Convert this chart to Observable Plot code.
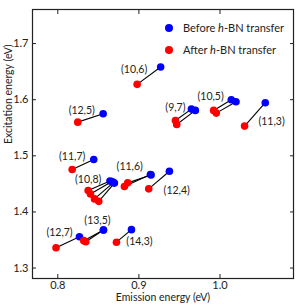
<!DOCTYPE html>
<html>
<head>
<meta charset="utf-8">
<script src="https://cdn.jsdelivr.net/npm/d3@7"></script>
<script src="https://cdn.jsdelivr.net/npm/@observablehq/plot@0.6"></script>
<style>
  html, body { margin: 0; padding: 0; background: #fff; }
  #wrap { position: relative; width: 299px; height: 307px; font-family: Lato, "Open Sans", sans-serif; }
  .leg { position: absolute; left: 165px; font-size: 11px; line-height: 13px; color: #222; display: flex; align-items: center; white-space: nowrap; }
  .leg span.d { width: 8px; height: 8px; border-radius: 50%; display: inline-block; margin-right: 10px; }
</style>
</head>
<body>
<div id="wrap"></div>
<script>
// chirality of each before/after pair
const pairNames = ["(12,5)","(10,6)","(9,7)","(9,7)","(10,5)","(10,5)","(11,3)","(11,7)",
  "(10,8)","(10,8)","(10,8)","(10,8)","(11,6)","(11,6)","(12,4)","(12,7)","(13,5)","(13,5)","(14,3)"];
// Before h-BN transfer (blue)
const beforeEm = [0.8559,0.9268,0.9647,0.9696,1.0139,1.0197,1.0558,0.8443,
  0.8643,0.8667,0.8686,0.8698,0.9142,0.9150,0.9376,0.8267,0.8563,0.8563,0.8908];
const beforeEx = [1.5750,1.6582,1.5832,1.5809,1.6000,1.5964,1.5946,1.4934,
  1.4550,1.4541,1.4523,1.4514,1.4666,1.4660,1.4725,1.3559,1.3679,1.3679,1.3684];
// After h-BN transfer (red)
const afterEm = [0.8246,0.8978,0.9450,0.9466,0.9921,0.9954,1.0303,0.8177,
  0.8374,0.8403,0.8452,0.8505,0.8821,0.8862,0.9121,0.7978,0.8320,0.8345,0.8723];
const afterEx = [1.5600,1.6273,1.5630,1.5559,1.5809,1.5761,1.5529,1.4755,
  1.4380,1.4321,1.4232,1.4189,1.4452,1.4518,1.4411,1.3363,1.3488,1.3470,1.3461];
// annotation labels: text, index of the pair they sit next to, and which end ("a" after / "b" before)
const labelTexts = ["(12,5)","(10,6)","(9,7)","(10,5)","(11,3)","(11,7)","(10,8)","(11,6)","(12,4)","(12,7)","(13,5)","(14,3)"];
const labelPair  = [0,1,2,4,6,7,8,13,14,15,16,18];
const labelEnd   = ["a","a","a","a","a","a","a","a","a","a","b","b"];
const xTicks = [0.8, 0.9, 1.0];
const yTicks = [1.3, 1.4, 1.5, 1.6, 1.7];

const pairs = pairNames.map((n, i) => ({name: n, bx: beforeEm[i], by: beforeEx[i], ax: afterEm[i], ay: afterEx[i]}));
const offs = [[4,-12],[-3,-15],[0,-13],[-3,-14],[27,-4],[0,-13],[0,-11],[2,-16],[28,2],[3.5,-15],[-6,-9],[8,12]];
const labels = labelTexts.map((t, i) => {
  const p = pairs[labelPair[i]];
  const b = labelEnd[i] === "b";
  return {t, x: b ? p.bx : p.ax, y: b ? p.by : p.ay, dx: offs[i][0], dy: offs[i][1]};
});

const font = "Lato, 'Open Sans', sans-serif";
const chart = Plot.plot({
  width: 299, height: 307,
  marginLeft: 32, marginRight: 6, marginTop: 9, marginBottom: 29,
  style: {fontFamily: font, fontSize: "11px", color: "#222", background: "#fff"},
  x: {domain: [0.7688, 1.0906]},
  y: {domain: [1.2814, 1.7607]},
  marks: [
    Plot.axisX({anchor: "bottom", ticks: xTicks, tickFormat: d3.format(".1f"), tickSize: -4, tickPadding: 7, label: null, fontSize: 11}),
    Plot.axisX({anchor: "top", ticks: xTicks, tickSize: -4, tickFormat: () => "", label: null}),
    Plot.axisY({anchor: "left", ticks: yTicks, tickFormat: d3.format(".1f"), tickSize: -4, tickPadding: 8, label: null, fontSize: 11}),
    Plot.axisY({anchor: "right", ticks: yTicks, tickSize: -4, tickFormat: () => "", label: null}),
    Plot.frame({stroke: "#222", strokeWidth: 1.2}),
    Plot.link(pairs, {x1: "bx", y1: "by", x2: "ax", y2: "ay", stroke: "#000", strokeWidth: 1.1}),
    Plot.dot(pairs, {x: "bx", y: "by", r: 3.8, fill: "#0000ff"}),
    Plot.dot(pairs, {x: "ax", y: "ay", r: 3.8, fill: "#ff0000"}),
    ...labels.map(l => Plot.text([l], {x: "x", y: "y", text: "t", dx: l.dx, dy: l.dy, fill: "#222", fontSize: 10.5})),
    Plot.text(["Emission energy (eV)"], {frameAnchor: "bottom", dy: 22, fontSize: 10.5, fill: "#222"}),
    Plot.text(["Excitation energy (eV)"], {frameAnchor: "left", dx: -24, rotate: -90, fontSize: 10.5, fill: "#222"})
  ]
});
const wrap = document.getElementById("wrap");
wrap.appendChild(chart);
const legend = [["#0000ff", "Before <i>h</i>-BN transfer", 21], ["#ff0000", "After <i>h</i>-BN transfer", 43]];
for (const [c, t, top] of legend) {
  const d = document.createElement("div");
  d.className = "leg";
  d.style.top = top + "px";
  d.innerHTML = `<span class="d" style="background:${c}"></span><span>${t}</span>`;
  wrap.appendChild(d);
}
</script>
</body>
</html>
